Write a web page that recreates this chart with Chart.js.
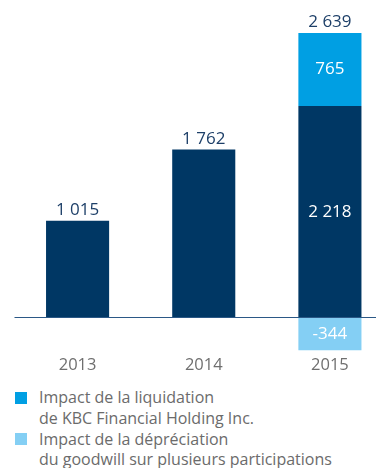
<!DOCTYPE html>
<html lang="fr">
<head>
<meta charset="utf-8">
<script src="https://cdn.jsdelivr.net/npm/chart.js@4/dist/chart.umd.min.js"></script>
<style>
  html, body { margin: 0; padding: 0; background: #fff; }
  body { width: 376px; height: 468px; overflow: hidden; position: relative; font-family: "Open Sans", sans-serif; }
  #wrap { position: absolute; left: 0; top: 0; width: 393px; height: 378px; }
  #legend { position: absolute; left: 15px; top: 387px; color: #6b6b6b; font-size: 16px; line-height: 20.8px; }
  .item { position: relative; padding-left: 24px; }
  .sw { position: absolute; left: 0; top: 4.5px; width: 12px; height: 12px; }
</style>
</head>
<body>
<div id="wrap"><canvas id="c" width="393" height="378"></canvas></div>
<div id="legend"></div>
<script>
// Résultat net (millions EUR)
const years = ['2013', '2014', '2015'];
const baseResult = [1015, 1762, 2218];
const liquidationImpact = [0, 0, 765];
const goodwillImpact = [0, 0, -344];
const legendLabels = [
  ['Impact de la liquidation', 'de KBC Financial Holding Inc.'],
  ['Impact de la dépréciation', 'du goodwill sur plusieurs participations']
];

const NAVY = '#003764';
const BLUE = '#009FE3';
const SKY = '#84CFF4';
const LABEL_NAVY = '#1d3f68';

function fmt(v) {
  const s = String(Math.abs(v)).replace(/\B(?=(\d{3})+(?!\d))/g, ' ');
  return (v < 0 ? '-' : '') + s;
}

// Value labels: inside segments (white) for the stacked year, totals above each column
const valueLabels = {
  id: 'valueLabels',
  afterDatasetsDraw(chart) {
    const ctx = chart.ctx;
    ctx.save();
    ctx.textAlign = 'center';
    ctx.textBaseline = 'middle';
    ctx.font = '17px "Open Sans"';
    const yScale = chart.scales.y;
    const n = years.length;
    for (let i = 0; i < n; i++) {
      const stacked = liquidationImpact[i] !== 0 || goodwillImpact[i] !== 0;
      const total = baseResult[i] + liquidationImpact[i] + goodwillImpact[i];
      let topVal = 0;
      chart.data.datasets.forEach((ds, d) => {
        const v = ds.data[i];
        if (!v) return;
        const el = chart.getDatasetMeta(d).data[i];
        if (v > 0) topVal += v;
        if (stacked) {
          ctx.fillStyle = '#ffffff';
          ctx.fillText(fmt(v), el.x, (el.y + el.base) / 2);
        }
      });
      const el0 = chart.getDatasetMeta(0).data[i];
      ctx.fillStyle = LABEL_NAVY;
      ctx.fillText(fmt(total), el0.x, yScale.getPixelForValue(topVal) - 10.5);
    }
    ctx.restore();
  }
};

// Zero line across the plot
const zeroLine = {
  id: 'zeroLine',
  afterDatasetsDraw(chart) {
    const ctx = chart.ctx;
    const y = Math.round(chart.scales.y.getPixelForValue(0)) + 0.5;
    ctx.save();
    ctx.strokeStyle = '#2b5886';
    ctx.lineWidth = 1;
    ctx.beginPath();
    ctx.moveTo(chart.chartArea.left, y);
    ctx.lineTo(chart.chartArea.right, y);
    ctx.stroke();
    ctx.restore();
  }
};

new Chart(document.getElementById('c'), {
  type: 'bar',
  data: {
    labels: years,
    datasets: [
      { data: baseResult, backgroundColor: NAVY },
      { data: liquidationImpact, backgroundColor: BLUE },
      { data: goodwillImpact, backgroundColor: SKY }
    ]
  },
  options: {
    responsive: false,
    animation: false,
    devicePixelRatio: 1,
    layout: { padding: { left: 14.5, right: 0, top: 0, bottom: 0 } },
    datasets: { bar: { barPercentage: 0.5, categoryPercentage: 1, borderWidth: 0, clip: false } },
    plugins: { legend: { display: false }, tooltip: { enabled: false } },
    scales: {
      x: {
        stacked: true,
        grid: { display: false, drawTicks: false },
        border: { display: false },
        ticks: { color: '#6f6f6f', font: { family: 'Open Sans', size: 16.5 }, padding: 3 }
      },
      y: {
        stacked: true,
        display: false,
        min: -364,
        max: 3330
      }
    }
  },
  plugins: [zeroLine, valueLabels]
});

// Legend
const legendColors = [BLUE, SKY];
const legend = document.getElementById('legend');
legendLabels.forEach((lines, k) => {
  const item = document.createElement('div');
  item.className = 'item';
  const sw = document.createElement('span');
  sw.className = 'sw';
  sw.style.background = legendColors[k];
  item.appendChild(sw);
  lines.forEach(t => {
    const line = document.createElement('div');
    line.textContent = t;
    item.appendChild(line);
  });
  legend.appendChild(item);
});
</script>
</body>
</html>
